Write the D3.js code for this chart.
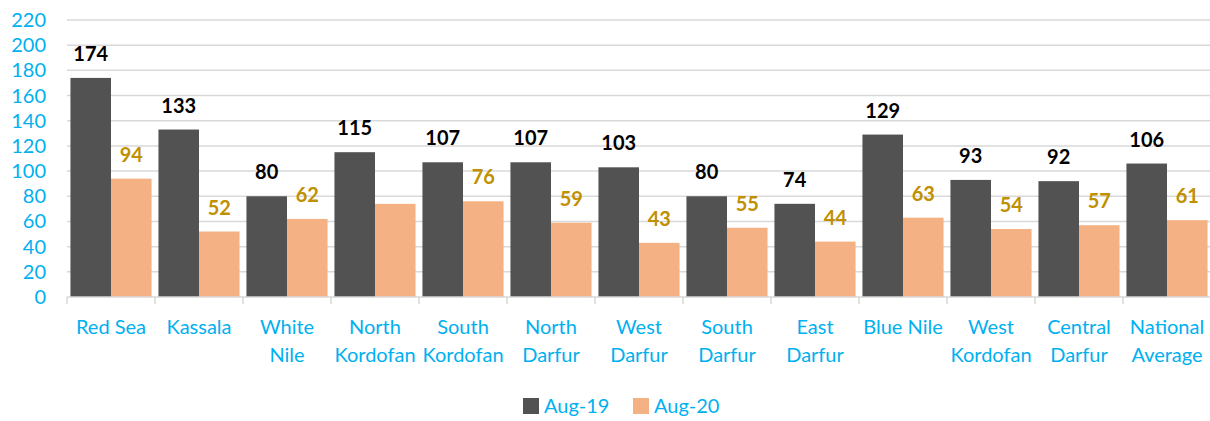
<!DOCTYPE html>
<head>
  <meta charset="utf8">
  <title>Aug-19 vs Aug-20</title>
  <script src="https://d3js.org/d3.v7.min.js"></script>
  <style>
    body { margin: 0; background: #fff; }
    text { font-family: Lato, "Noto Sans", sans-serif; }
  </style>
</head>
<body>
<script>

  // data
  var categories = [["Red Sea"], ["Kassala"], ["White", "Nile"], ["North", "Kordofan"],
    ["South", "Kordofan"], ["North", "Darfur"], ["West", "Darfur"], ["South", "Darfur"],
    ["East", "Darfur"], ["Blue Nile"], ["West", "Kordofan"], ["Central", "Darfur"],
    ["National", "Average"]];
  var series = ["Aug-19", "Aug-20"];
  var aug19 = [174, 133, 80, 115, 107, 107, 103, 80, 74, 129, 93, 92, 106];
  var aug20 = [94, 52, 62, 74, 76, 59, 43, 55, 44, 63, 54, 57, 61];
  // the North Kordofan Aug-20 bar carries no label in the original
  var aug20Labels = ["94", "52", "62", null, "76", "59", "43", "55", "44", "63", "54", "57", "61"];
  var yTicks = [0, 20, 40, 60, 80, 100, 120, 140, 160, 180, 200, 220];

  var width = 1210, height = 421,
      plotLeft = 67, plotRight = 1211, plotTop = 20, plotBottom = 297;

  var colors = ["#525252", "#F4B183"],
      labelColors = ["#000000", "#BF9000"],
      blue = "#00B0F0";

  var svg = d3.select("body").append("svg")
              .attr("width", width)
              .attr("height", height);

  var x = d3.scaleBand()
            .domain(d3.range(categories.length))
            .range([plotLeft, plotRight])
            .paddingInner(0)
            .paddingOuter(0);

  var inner = d3.scaleBand()
                .domain([0, 1])
                .range([0, x.bandwidth()])
                .paddingInner(0)
                .paddingOuter(0.085);

  var y = d3.scaleLinear()
            .domain([0, 220])
            .range([plotBottom, plotTop]);

  // gridlines
  svg.append("g")
     .selectAll("line")
     .data(yTicks.slice(1))
     .enter().append("line")
     .attr("x1", plotLeft).attr("x2", plotRight)
     .attr("y1", function(d) { return y(d); })
     .attr("y2", function(d) { return y(d); })
     .attr("stroke", "#D9D9D9")
     .attr("stroke-width", 1.5);

  // y tick labels
  svg.append("g")
     .selectAll("text")
     .data(yTicks)
     .enter().append("text")
     .attr("x", 46)
     .attr("y", function(d) { return y(d); })
     .attr("dy", "0.35em")
     .attr("text-anchor", "end")
     .attr("fill", blue)
     .attr("font-size", 20)
     .text(function(d) { return d; });

  // bars
  var valuesBySeries = [aug19, aug20];
  valuesBySeries.forEach(function(vals, s) {
    svg.append("g")
       .selectAll("rect")
       .data(vals)
       .enter().append("rect")
       .attr("x", function(d, i) { return x(i) + inner(s); })
       .attr("width", inner.bandwidth())
       .attr("y", function(d) { return y(d); })
       .attr("height", function(d) { return y(0) - y(d); })
       .attr("fill", colors[s]);
  });

  // value labels
  var labelsBySeries = [aug19.map(String), aug20Labels];
  labelsBySeries.forEach(function(labs, s) {
    var idx = d3.range(labs.length).filter(function(i) { return labs[i] !== null; });
    svg.append("g")
       .selectAll("text")
       .data(idx)
       .enter().append("text")
       .attr("x", function(i) { return x(i) + inner(s) + inner.bandwidth() / 2; })
       .attr("y", function(i) { return y(valuesBySeries[s][i]) - 17; })
       .attr("text-anchor", "middle")
       .attr("font-weight", "bold")
       .attr("font-size", 20)
       .attr("fill", labelColors[s])
       .text(function(i) { return labs[i]; });
  });

  // x axis line + ticks
  var axis = svg.append("g");
  axis.append("line")
      .attr("x1", plotLeft).attr("x2", plotRight)
      .attr("y1", y(0)).attr("y2", y(0))
      .attr("stroke", "#D9D9D9")
      .attr("stroke-width", 1.5);
  axis.selectAll(".tick")
      .data(d3.range(categories.length + 1))
      .enter().append("line")
      .attr("x1", function(i) { return plotLeft + i * x.step(); })
      .attr("x2", function(i) { return plotLeft + i * x.step(); })
      .attr("y1", y(0)).attr("y2", y(0) + 7)
      .attr("stroke", "#D9D9D9")
      .attr("stroke-width", 1.5);

  // category labels
  var cat = svg.append("g")
               .selectAll("text")
               .data(categories)
               .enter().append("text")
               .attr("x", function(d, i) { return x(i) + x.bandwidth() / 2; })
               .attr("y", 334)
               .attr("text-anchor", "middle")
               .attr("fill", blue)
               .attr("font-size", 20);
  cat.selectAll("tspan")
     .data(function(d) { return d; })
     .enter().append("tspan")
     .attr("x", function() { return d3.select(this.parentNode).attr("x"); })
     .attr("dy", function(d, j) { return j === 0 ? 0 : 28; })
     .text(function(d) { return d; });

  // legend
  var legendX = [523, 633];
  var legend = svg.append("g")
                  .selectAll("g")
                  .data(series)
                  .enter().append("g")
                  .attr("transform", function(d, i) { return "translate(" + legendX[i] + ",398)"; });
  legend.append("rect")
        .attr("width", 16).attr("height", 16)
        .attr("fill", function(d, i) { return colors[i]; });
  legend.append("text")
        .attr("x", 21)
        .attr("y", 15)
        .attr("fill", blue)
        .attr("font-size", 20)
        .text(function(d) { return d; });

</script>
</body>
